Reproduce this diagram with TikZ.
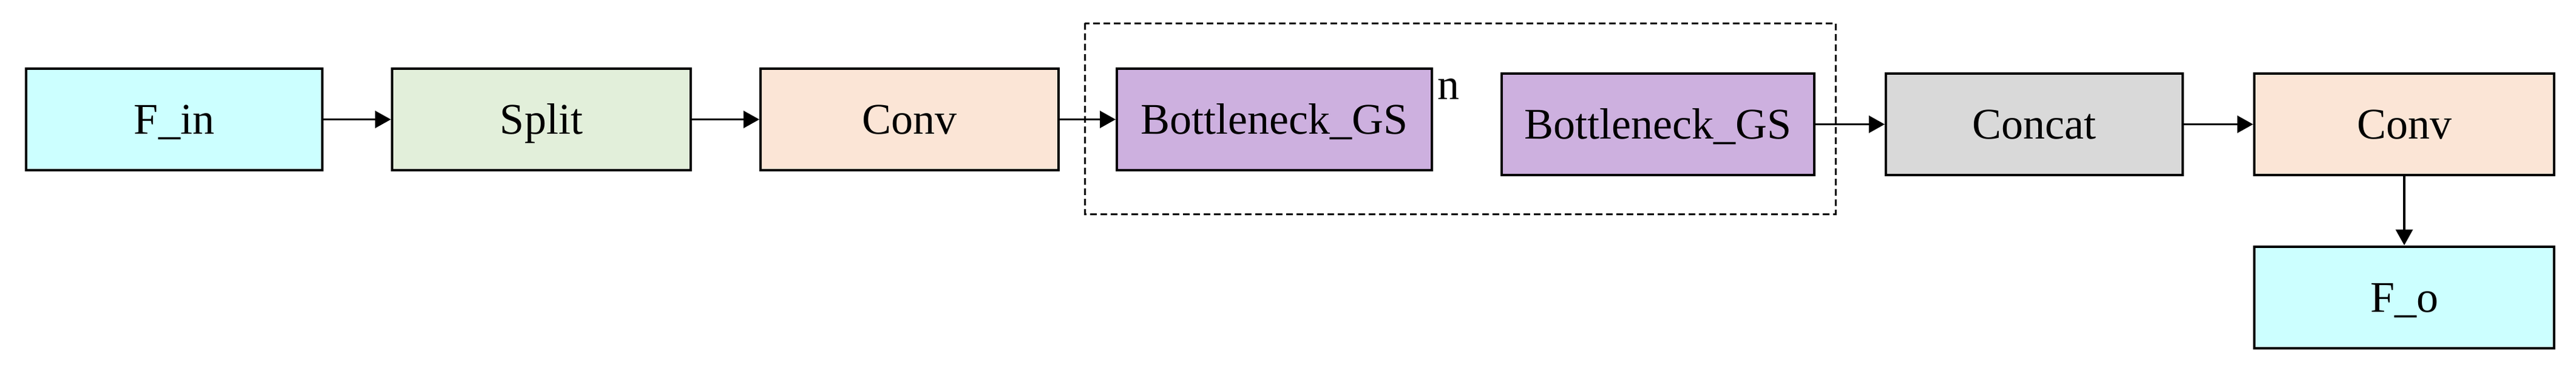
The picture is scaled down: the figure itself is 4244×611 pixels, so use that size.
\documentclass[tikz,border=0pt]{standalone}
\usepackage{fontspec}
\setmainfont{Liberation Serif}
\usetikzlibrary{arrows.meta}
\definecolor{cyanbox}{HTML}{CCFFFF}
\definecolor{greenbox}{HTML}{E2EFDA}
\definecolor{peachbox}{HTML}{FBE5D6}
\definecolor{purplebox}{HTML}{CDB0DF}
\definecolor{greybox}{HTML}{D9D9D9}
\begin{document}
\begin{tikzpicture}[x=1pt,y=-1pt,
  blk/.style={draw=black, line width=4pt, inner sep=0pt, minimum height=167pt,
    font=\fontsize{72}{80}\selectfont, text height=48pt, text depth=0pt},
  conn/.style={line width=3.5pt, -{Triangle[length=26pt,width=28pt]}},
  grp/.style={draw=black, line width=3pt, dash pattern=on 11pt off 6pt}]
\useasboundingbox (0,0) rectangle (4244,611);
\node[blk, fill=cyanbox, minimum width=488pt] (fin) at (287,196.5) {F\_in};
\node[blk, fill=greenbox, minimum width=492pt] (split) at (892,196.5) {Split};
\node[blk, fill=peachbox, minimum width=491pt] (conv1) at (1498.5,196.5) {Conv};
\node[blk, fill=purplebox, minimum width=519pt] (b1) at (2099.5,196.5) {Bottleneck\_GS};
\node[blk, fill=purplebox, minimum width=515pt] (b2) at (2731.5,204.5) {Bottleneck\_GS};
\node[blk, fill=greybox, minimum width=489pt] (concat) at (3351.5,204.5) {Concat};
\node[blk, fill=peachbox, minimum width=494pt] (conv2) at (3961,204.5) {Conv};
\node[blk, fill=cyanbox, minimum width=494pt] (fo) at (3961,489) {F\_o};
\node[font=\fontsize{72}{80}\selectfont, inner sep=0pt, anchor=base] (nlbl) at (2386,163) {n};
\coordinate (ga) at (1787,38);
\coordinate (gb) at (3024,352);
\draw[grp] (ga) rectangle (gb);
\draw[conn] (fin) -- (split);
\draw[conn] (split) -- (conv1);
\draw[conn] (conv1) -- (b1);
\draw[conn] (b2) -- (concat);
\draw[conn] (concat) -- (conv2);
\draw[conn] (conv2) -- (fo);
\end{tikzpicture}
\end{document}
